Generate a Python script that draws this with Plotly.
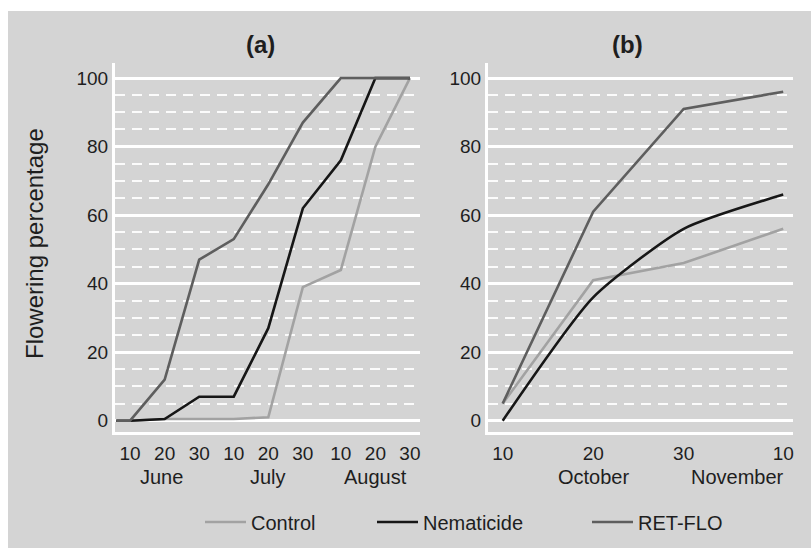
import plotly.graph_objects as go

# ---------------- data ----------------
dates_a = ["2000-06-06", "2000-06-10", "2000-06-20", "2000-06-30", "2000-07-10",
           "2000-07-20", "2000-07-30", "2000-08-10", "2000-08-20", "2000-08-30"]
control_a = [0, 0, 0.5, 0.5, 0.5, 1, 39, 44, 80, 100]
nematicide_a = [0, 0, 0.5, 7, 7, 27, 62, 76, 100, 100]
retflo_a = [0, 0, 12, 47, 53, 69, 87, 100, 100, 100]

dates_b = ["2000-10-10", "2000-10-20", "2000-10-30", "2000-11-10"]
control_b = [5, 41, 46, 56]
nematicide_b = [0, 36, 56, 66]
retflo_b = [5, 61, 91, 96]

ticks_a = ["2000-06-10", "2000-06-20", "2000-06-30", "2000-07-10", "2000-07-20",
           "2000-07-30", "2000-08-10", "2000-08-20", "2000-08-30"]
ticklabels_a = ["10", "20", "30", "10", "20", "30", "10", "20", "30"]
ticks_b = ["2000-10-10", "2000-10-20", "2000-10-30", "2000-11-10"]
ticklabels_b = ["10", "20", "30", "10"]
months_a = [("June", "2000-06-19"), ("July", "2000-07-20"), ("August", "2000-08-20")]
months_b = [("October", "2000-10-20"), ("November", "2000-11-05")]
y_ticks = [0, 20, 40, 60, 80, 100]

series_names = ["Control", "Nematicide", "RET-FLO"]
colors = ["#a2a2a2", "#161616", "#5e5e5e"]

FONT = "Liberation Sans, Arial, Helvetica, sans-serif"
BG = "#d4d4d4"
TXT = "#1e1e1e"

fig = go.Figure()
legends = ["legend", "legend2", "legend3"]
for name, ys, col, lg in zip(series_names, [control_a, nematicide_a, retflo_a], colors, legends):
    fig.add_trace(go.Scatter(x=dates_a, y=ys, mode="lines", name=name,
                             line=dict(color=col, width=2.6), xaxis="x", yaxis="y",
                             legend=lg))
for name, ys, col in zip(series_names, [control_b, nematicide_b, retflo_b], colors):
    shape = "spline" if name == "Nematicide" else "linear"
    fig.add_trace(go.Scatter(x=dates_b, y=ys, mode="lines", name=name, showlegend=False,
                             line=dict(color=col, width=2.6, shape=shape, smoothing=0.6),
                             xaxis="x2", yaxis="y2"))

W, H = 811, 548
def px(x):
    return x / W
def py(y):
    return 1 - y / H

yaxis_common = dict(
    range=[-3.3, 104.4], tickvals=y_ticks, showline=True, linecolor="white", linewidth=3,
    showgrid=True, gridcolor="white", gridwidth=2.5, zeroline=False,
    ticks="", ticklabelstandoff=0,
    tickfont=dict(family=FONT, size=19, color=TXT),
    minor=dict(dtick=5, showgrid=True, gridcolor="rgba(255,255,255,0.9)", gridwidth=2,
               griddash="10px,7px"),
    domain=[py(432), py(63)],
)
xaxis_common = dict(
    type="date", showline=True, linecolor="white", linewidth=3, showgrid=False,
    zeroline=False, ticks="", ticklabelstandoff=2,
    tickfont=dict(family=FONT, size=19, color=TXT),
)

fig.update_layout(
    width=W, height=H, margin=dict(l=0, r=0, t=0, b=0),
    paper_bgcolor="white", plot_bgcolor=BG,
    font=dict(family=FONT, color=TXT),
    xaxis=dict(xaxis_common, domain=[px(115), px(420)], anchor="y",
               range=["2000-06-05 15:00", "2000-09-01 22:00"],
               tickvals=ticks_a, ticktext=ticklabels_a),
    yaxis=dict(yaxis_common, anchor="x"),
    xaxis2=dict(xaxis_common, domain=[px(488), px(793)], anchor="y2",
                range=["2000-10-08 09:00", "2000-11-11 02:00"],
                tickvals=ticks_b, ticktext=ticklabels_b),
    yaxis2=dict(yaxis_common, anchor="x2"),
    shapes=[dict(type="rect", xref="paper", yref="paper", x0=px(8), x1=1, y0=0, y1=py(11),
                 fillcolor=BG, line=dict(width=0), layer="below")],
)

leg_x = [200, 372, 587]
for lg, lx in zip(legends, leg_x):
    fig.update_layout({lg: dict(x=px(lx), y=py(522), xanchor="left", yanchor="middle",
                                orientation="h", bgcolor="rgba(0,0,0,0)", itemwidth=41,
                                font=dict(family=FONT, size=20, color=TXT))})

ann = []
for text, d in months_a:
    ann.append(dict(x=d, y=py(477), xref="x", yref="paper", text=text, showarrow=False,
                    font=dict(family=FONT, size=20, color=TXT), xanchor="center", yanchor="middle"))
for text, d in months_b:
    ann.append(dict(x=d, y=py(477), xref="x2", yref="paper", text=text, showarrow=False,
                    font=dict(family=FONT, size=20, color=TXT), xanchor="center", yanchor="middle"))
ann.append(dict(x=px(260), y=py(45), xref="paper", yref="paper", text="<b>(a)</b>",
                showarrow=False, xanchor="center", yanchor="middle",
                font=dict(family=FONT, size=24, color=TXT)))
ann.append(dict(x=px(627), y=py(45), xref="paper", yref="paper", text="<b>(b)</b>",
                showarrow=False, xanchor="center", yanchor="middle",
                font=dict(family=FONT, size=24, color=TXT)))
ann.append(dict(x=px(34), y=py(244), xref="paper", yref="paper", text="Flowering percentage",
                textangle=-90, showarrow=False, xanchor="center", yanchor="middle",
                font=dict(family=FONT, size=24, color=TXT)))
fig.update_layout(annotations=ann)

fig.write_html("out.html")
